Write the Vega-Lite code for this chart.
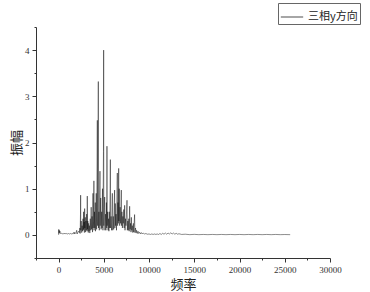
{
  "$schema": "https://vega.github.io/schema/vega-lite/v6.json",
  "width": 294,
  "height": 231,
  "autosize": {"type": "none"},
  "padding": {"left": 36, "top": 27, "right": 40, "bottom": 34},
  "background": "white",
  "config": {"view": {"stroke": null}},
  "data": {"values": [
    {"f":0,"a":0.0},{"f":20,"a":0.12},{"f":40,"a":0.03},{"f":60,"a":0.1},{"f":100,"a":0.05},{"f":150,"a":0.08},{"f":200,"a":0.03},{"f":300,"a":0.04},{"f":400,"a":0.02},{"f":500,"a":0.03},{"f":600,"a":0.02},{"f":700,"a":0.04},{"f":800,"a":0.02},{"f":900,"a":0.03},{"f":1000,"a":0.02},{"f":1100,"a":0.03},{"f":1200,"a":0.02},{"f":1300,"a":0.03},{"f":1400,"a":0.02},{"f":1500,"a":0.03},{"f":1600,"a":0.02},{"f":1700,"a":0.06},{"f":1750,"a":0.02},{"f":1800,"a":0.05},{"f":1900,"a":0.03},{"f":2000,"a":0.1},{"f":2050,"a":0.02},{"f":2100,"a":0.04},{"f":2200,"a":0.08},{"f":2300,"a":0.05},
    {"f":2350,"a":0.15},{"f":2380,"a":0.03},{"f":2420,"a":0.45},{"f":2434,"a":0.86},{"f":2450,"a":0.1},{"f":2500,"a":0.3},{"f":2550,"a":0.05},{"f":2600,"a":0.2},{"f":2650,"a":0.08},{"f":2700,"a":0.35},{"f":2720,"a":0.1},{"f":2760,"a":0.5},{"f":2780,"a":0.12},{"f":2820,"a":0.28},{"f":2850,"a":0.05},{"f":2876,"a":0.57},{"f":2900,"a":0.15},{"f":2950,"a":0.38},{"f":2980,"a":0.06},{"f":3020,"a":0.3},{"f":3060,"a":0.1},{"f":3100,"a":0.45},{"f":3150,"a":0.08},{"f":3170,"a":0.84},{"f":3190,"a":0.12},{"f":3230,"a":0.3},{"f":3280,"a":0.05},{"f":3320,"a":0.25},{"f":3360,"a":0.08},{"f":3400,"a":0.2},{"f":3450,"a":0.04},{"f":3500,"a":0.35},{"f":3550,"a":0.1},{"f":3600,"a":0.6},{"f":3640,"a":0.12},{"f":3700,"a":0.4},{"f":3750,"a":0.06},{"f":3800,"a":0.9},{"f":3820,"a":0.15},{"f":3870,"a":0.3},{"f":3900,"a":1.17},{"f":3920,"a":0.1},{"f":3970,"a":0.5},{"f":4000,"a":0.15},{"f":4050,"a":0.7},{"f":4080,"a":0.08},{"f":4120,"a":0.3},{"f":4160,"a":0.9},{"f":4200,"a":0.12},{"f":4260,"a":1.6},{"f":4280,"a":2.48},{"f":4300,"a":0.2},{"f":4340,"a":0.6},{"f":4390,"a":3.32},{"f":4410,"a":0.15},{"f":4450,"a":0.5},{"f":4500,"a":0.1},{"f":4570,"a":1.38},{"f":4600,"a":0.2},{"f":4650,"a":0.8},{"f":4700,"a":0.12},{"f":4760,"a":0.5},{"f":4800,"a":0.15},{"f":4850,"a":1.0},{"f":4900,"a":0.1},{"f":4960,"a":1.8},{"f":4978,"a":4.0},{"f":4995,"a":0.2},{"f":5050,"a":0.6},{"f":5090,"a":0.82},{"f":5120,"a":0.1},{"f":5180,"a":0.45},{"f":5230,"a":0.1},{"f":5280,"a":0.7},{"f":5320,"a":0.15},{"f":5345,"a":1.92},{"f":5370,"a":0.2},{"f":5420,"a":0.5},{"f":5470,"a":0.1},{"f":5520,"a":0.35},{"f":5560,"a":0.08},{"f":5600,"a":0.5},{"f":5640,"a":0.15},{"f":5700,"a":1.0},{"f":5720,"a":1.63},{"f":5740,"a":0.15},{"f":5800,"a":0.4},{"f":5850,"a":0.1},{"f":5900,"a":0.6},{"f":5940,"a":0.9},{"f":5980,"a":0.1},{"f":6040,"a":0.4},{"f":6090,"a":0.12},{"f":6150,"a":0.7},{"f":6190,"a":0.97},{"f":6220,"a":0.15},{"f":6260,"a":0.68},{"f":6300,"a":0.2},{"f":6350,"a":0.45},{"f":6400,"a":0.1},{"f":6450,"a":0.9},{"f":6490,"a":1.34},{"f":6520,"a":0.2},{"f":6560,"a":0.7},{"f":6600,"a":0.25},{"f":6640,"a":1.44},{"f":6660,"a":0.3},{"f":6700,"a":1.0},{"f":6750,"a":0.2},{"f":6800,"a":0.6},{"f":6850,"a":0.25},{"f":6930,"a":0.97},{"f":6960,"a":0.2},{"f":7000,"a":0.5},{"f":7050,"a":0.15},{"f":7100,"a":0.4},{"f":7150,"a":0.25},{"f":7200,"a":0.55},{"f":7250,"a":0.15},{"f":7300,"a":0.64},{"f":7340,"a":0.1},{"f":7400,"a":0.35},{"f":7450,"a":0.2},{"f":7500,"a":0.45},{"f":7560,"a":0.75},{"f":7600,"a":0.1},{"f":7650,"a":0.3},{"f":7700,"a":0.1},{"f":7760,"a":0.35},{"f":7800,"a":0.08},{"f":7850,"a":0.62},{"f":7900,"a":0.12},{"f":7950,"a":0.25},{"f":8000,"a":0.06},{"f":8040,"a":0.38},{"f":8080,"a":0.1},{"f":8150,"a":0.2},{"f":8200,"a":0.05},{"f":8260,"a":0.25},{"f":8300,"a":0.06},{"f":8400,"a":0.44},{"f":8430,"a":0.05},{"f":8500,"a":0.15},{"f":8560,"a":0.04},{"f":8620,"a":0.1},{"f":8700,"a":0.03},{"f":8780,"a":0.08},{"f":8850,"a":0.03},{"f":8950,"a":0.06},{"f":9050,"a":0.02},{"f":9150,"a":0.05},{"f":9250,"a":0.02},{"f":9350,"a":0.04},{"f":9500,"a":0.02},{"f":9650,"a":0.03},{"f":9800,"a":0.015},{"f":10000,"a":0.02},{"f":10150,"a":0.01},{"f":10300,"a":0.02},{"f":10450,"a":0.01},{"f":10600,"a":0.02},{"f":10750,"a":0.01},{"f":10900,"a":0.02},{"f":11050,"a":0.01},{"f":11200,"a":0.03},{"f":11350,"a":0.01},{"f":11500,"a":0.035},{"f":11650,"a":0.015},{"f":11800,"a":0.04},{"f":11950,"a":0.015},{"f":12100,"a":0.04},{"f":12250,"a":0.02},{"f":12400,"a":0.045},{"f":12550,"a":0.02},{"f":12700,"a":0.04},{"f":12850,"a":0.015},{"f":13000,"a":0.035},{"f":13150,"a":0.015},{"f":13300,"a":0.025},{"f":13600,"a":0.01},{"f":14000,"a":0.015},{"f":14500,"a":0.005},{"f":15000,"a":0.012},{"f":15500,"a":0.005},{"f":16000,"a":0.01},{"f":16500,"a":0.005},{"f":17000,"a":0.01},{"f":17500,"a":0.005},{"f":18000,"a":0.01},{"f":18500,"a":0.005},{"f":19000,"a":0.01},{"f":19500,"a":0.005},{"f":20000,"a":0.01},{"f":20500,"a":0.005},{"f":21000,"a":0.01},{"f":21500,"a":0.005},{"f":22000,"a":0.01},{"f":22500,"a":0.005},{"f":23000,"a":0.01},{"f":23500,"a":0.005},{"f":24000,"a":0.01},{"f":24500,"a":0.005},{"f":25000,"a":0.008},{"f":25600,"a":0.005}
  ]},
  "mark": {"type": "line", "strokeWidth": 0.45, "interpolate": "linear"},
  "encoding": {
    "x": {
      "field": "f", "type": "quantitative",
      "scale": {"domain": [-2500, 30000], "nice": false, "zero": false},
      "axis": {
        "title": "频率", "titleFont": "Noto Sans CJK SC", "titleFontSize": 13, "titleFontWeight": "normal", "titleColor": "#222", "titlePadding": 4,
        "values": [-2500, 0, 2500, 5000, 7500, 10000, 12500, 15000, 17500, 20000, 22500, 25000, 27500, 30000],
        "labelExpr": "datum.value % 5000 === 0 ? format(datum.value, 'd') : ''",
        "labelFont": "Liberation Serif", "labelFontSize": 9, "labelColor": "#333", "labelPadding": 3, "labelFlush": false, "labelOverlap": false,
        "grid": false, "domainColor": "#333", "domainWidth": 1, "tickColor": "#333", "tickWidth": 1,
        "tickSize": {"condition": {"test": "datum.value % 5000 === 0", "value": 4}, "value": 2}
      }
    },
    "y": {
      "field": "a", "type": "quantitative",
      "scale": {"domain": [-0.5, 4.5], "nice": false, "zero": false},
      "axis": {
        "title": "振幅", "titleFont": "Noto Sans CJK SC", "titleFontSize": 13, "titleFontWeight": "normal", "titleColor": "#222", "titlePadding": 1,
        "values": [-0.5, 0, 0.5, 1, 1.5, 2, 2.5, 3, 3.5, 4, 4.5],
        "labelExpr": "datum.value % 1 === 0 ? format(datum.value, 'd') : ''",
        "labelFont": "Liberation Serif", "labelFontSize": 9, "labelColor": "#333", "labelPadding": 3, "labelFlush": false, "labelOverlap": false,
        "grid": false, "domainColor": "#333", "domainWidth": 1, "tickColor": "#333", "tickWidth": 1,
        "tickSize": {"condition": {"test": "datum.value % 1 === 0", "value": 4}, "value": 2}
      }
    },
    "color": {
      "datum": "三相y方向",
      "scale": {"range": ["#000000"]},
      "legend": {
        "title": null, "orient": "none", "legendX": 242, "legendY": -24,
        "strokeColor": "#666", "padding": 2, "symbolType": "stroke", "symbolSize": 500, "symbolStrokeWidth": 0.7, "symbolStrokeColor": "#555",
        "labelFont": "Noto Sans CJK SC", "labelFontSize": 11, "labelColor": "#222"
      }
    }
  }
}
